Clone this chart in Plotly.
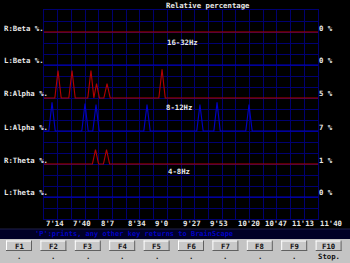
import plotly.graph_objects as go

W, H = 350, 263

# ---------------- data ----------------
t_start, t_end = 434, 700          # seconds (7'14 .. 11'40)
grid_step = 13.3                   # seconds per vertical grid cell
tick_secs = [434, 460, 487, 514, 540, 567, 593, 620, 647, 673, 700]
tick_labels = ["7'14", "7'40", "8'7", "8'34", "9'0", "9'27", "9'53",
               "10'20", "10'47", "11'13", "11'40"]

channel_names = ["R:Beta %.", "L:Beta %.", "R:Alpha %.", "L:Alpha %.", "R:Theta %.", "L:Theta %."]
current_values = ["0 %", "0 %", "5 %", "7 %", "1 %", "0 %"]
band_labels = ["16-32Hz", "8-12Hz", "4-8Hz"]
title_text = "Relative percentage"
status_text = "'P':prints, any other key returns to BrainScape"
key_labels = ["F1", "F2", "F3", "F4", "F5", "F6", "F7", "F8", "F9", "F10"]
key_actions = [".", ".", ".", ".", ".", ".", ".", ".", ".", "Stop."]

r_beta_t = [434, 700]
r_beta_v = [0, 0]
l_beta_t = [434, 700]
l_beta_v = [0, 0]
r_alpha_t = [434, 444.5, 447.6, 450.7, 458.1, 461.2, 464.3, 476.5, 479.6, 482.4,
             485.0, 487.8, 492.1, 495.2, 498.3, 545.5, 548.6, 551.7, 700]
r_alpha_v = [0, 0, 25, 0, 0, 25, 0, 0, 25, 0,
             13, 0, 0, 13, 0, 0, 26, 0, 0]
l_alpha_t = [434, 438.7, 441.8, 444.9, 470.7, 473.8, 476.9, 481.4, 484.5, 487.6,
             530.9, 534.0, 537.1, 582.3, 585.4, 588.5, 598.9, 602.0, 605.1,
             629.9, 633.0, 636.1, 700]
l_alpha_v = [0, 0, 26, 0, 0, 25, 0, 0, 24, 0,
             0, 24, 0, 0, 24, 0, 0, 26, 0,
             0, 24, 0, 0]
r_theta_t = [434, 481.0, 484.0, 487.0, 491.7, 494.7, 497.7, 700]
r_theta_v = [0, 0, 13, 0, 0, 13, 0, 0]
l_theta_t = [434, 700]
l_theta_v = [0, 0]

series_t = [r_beta_t, l_beta_t, r_alpha_t, l_alpha_t, r_theta_t, l_theta_t]
series_v = [r_beta_v, l_beta_v, r_alpha_v, l_alpha_v, r_theta_v, l_theta_v]

# ---------------- styling ----------------
RED = "#b40000"
BLUE = "#0000c8"
GRID = "#000070"
TXT = "#e8e8e8"
FONT = "DejaVu Sans Mono"
FS = 7.3

plot_l, plot_r, plot_t, plot_b = 44, 318, 10, 219
n_rows = 19
row_px = 11
baseline_rows = [17, 14, 11, 8, 5, 2]   # grid row of each channel's zero line (from bottom)
pct_per_row = 10.0

def xp(px):
    return px / W

def yp(py):
    return 1 - py / H

fig = go.Figure()

colors = [RED, BLUE, RED, BLUE, RED, BLUE]
for i, (tt, vv) in enumerate(zip(series_t, series_v)):
    r = baseline_rows[i]
    fig.add_trace(go.Scatter(x=tt, y=[r + v / pct_per_row for v in vv], mode="lines",
                             line=dict(color=colors[i], width=1.1),
                             hoverinfo="skip", showlegend=False))

fig.update_layout(
    width=W, height=H,
    margin=dict(l=0, r=0, t=0, b=0),
    paper_bgcolor="black", plot_bgcolor="black",
    xaxis=dict(domain=[xp(plot_l), xp(plot_r)], range=[t_start, t_end],
               tick0=t_start, dtick=grid_step, showgrid=True, gridcolor=GRID,
               gridwidth=1, showticklabels=False, zeroline=False, ticks="",
               showline=True, linecolor=GRID, linewidth=1, mirror=True),
    yaxis=dict(domain=[yp(plot_b), yp(plot_t)], range=[0, n_rows], tick0=0, dtick=1,
               showgrid=True, gridcolor=GRID, gridwidth=1, showticklabels=False,
               zeroline=False, ticks="", showline=True, linecolor=GRID,
               linewidth=1, mirror=True),
    showlegend=False,
)

ann = []
def text(x, y, s, color=TXT, xanchor="left", size=FS, xref="paper", bold=True):
    ann.append(dict(x=x, y=y, xref=xref, yref="paper", text=("<b>%s</b>" % s) if bold else s,
                    showarrow=False, xanchor=xanchor, yanchor="middle",
                    font=dict(family=FONT, size=size, color=color)))

baselines_px = [plot_b - r * row_px for r in baseline_rows]
# title
text(xp(164), yp(6), title_text)
# channel labels
for i, name in enumerate(channel_names):
    b = baselines_px[i]
    text(xp(2), yp(b - 4), name)
    text(xp(317), yp(b - 4), current_values[i])
# band labels
band_y = [42, 107, 171]
band_x = [165, 164, 166]
for lab, bx, by in zip(band_labels, band_x, band_y):
    text(xp(bx), yp(by), lab)
# time labels
for ts, lab in zip(tick_secs, tick_labels):
    text(ts, yp(223.5), lab, xref="x")

shapes = []
# status band
shapes.append(dict(type="rect", xref="paper", yref="paper", x0=0, x1=1,
                   y0=yp(239), y1=yp(229), fillcolor="#000026", line=dict(width=0)))
shapes.append(dict(type="line", xref="paper", yref="paper", x0=0, x1=1,
                   y0=yp(229), y1=yp(229), line=dict(color="#202048", width=1)))
text(xp(134), yp(234), status_text, color="#0000c4", xanchor="center", size=7.0)

# key bar
shapes.append(dict(type="rect", xref="paper", yref="paper", x0=0, x1=1,
                   y0=0, y1=yp(239), fillcolor="#c4c4c4", line=dict(width=0)))
for k, (lab, act) in enumerate(zip(key_labels, key_actions)):
    x0 = 6 + 34.4 * k
    x1 = x0 + 26
    y0, y1 = 240.5, 251
    shapes.append(dict(type="rect", xref="paper", yref="paper", x0=xp(x0), x1=xp(x1),
                       y0=yp(y1), y1=yp(y0), fillcolor="#c8c8c8", line=dict(width=0)))
    shapes.append(dict(type="line", xref="paper", yref="paper", x0=xp(x0), x1=xp(x1),
                       y0=yp(y0 + 0.5), y1=yp(y0 + 0.5), line=dict(color="#ffffff", width=1)))
    shapes.append(dict(type="line", xref="paper", yref="paper", x0=xp(x0 + 0.5), x1=xp(x0 + 0.5),
                       y0=yp(y0), y1=yp(y1), line=dict(color="#ffffff", width=1)))
    shapes.append(dict(type="line", xref="paper", yref="paper", x0=xp(x0), x1=xp(x1),
                       y0=yp(y1 - 0.5), y1=yp(y1 - 0.5), line=dict(color="#606060", width=1)))
    shapes.append(dict(type="line", xref="paper", yref="paper", x0=xp(x1 - 0.5), x1=xp(x1 - 0.5),
                       y0=yp(y0), y1=yp(y1), line=dict(color="#606060", width=1)))
    text(xp((x0 + x1) / 2), yp(246), lab, color="#101010", xanchor="center")
    text(xp((x0 + x1) / 2), yp(256), act, color="#101010", xanchor="center")

fig.update_layout(annotations=ann, shapes=shapes)
fig.write_html("out.html")
